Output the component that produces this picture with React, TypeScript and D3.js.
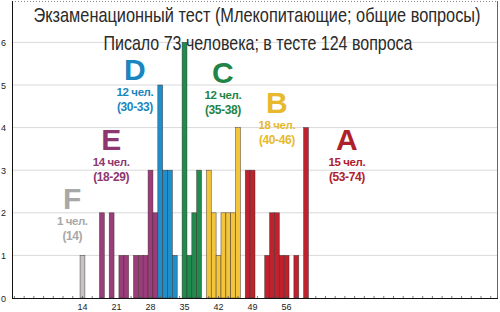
import React from "react";
import * as d3 from "d3";

const scores = [14, 18, 20, 22, 23, 25, 26, 27, 28, 29, 30, 31, 32, 33, 35, 36, 37, 38, 40, 41, 42, 43, 44, 45, 46, 48, 49, 52, 53, 54, 55, 56, 58, 60];
const counts = [1, 2, 2, 1, 1, 1, 1, 1, 3, 2, 5, 3, 3, 1, 6, 1, 2, 3, 3, 2, 1, 2, 2, 2, 4, 3, 3, 1, 2, 2, 1, 1, 1, 4];
const grades = ["F", "E", "E", "E", "E", "E", "E", "E", "E", "E", "D", "D", "D", "D", "C", "C", "C", "C", "B", "B", "B", "B", "B", "B", "B", "A", "A", "A", "A", "A", "A", "A", "A", "A"];

const gradeNames = ["F", "E", "D", "C", "B", "A"];
const gradeFill = ["#c4c4c4", "#9c3d7b", "#1e8fcb", "#1f8b4d", "#f3c53c", "#bf222c"];
const gradeText = ["#a8a8a8", "#8e3670", "#1a86c0", "#1f8446", "#e8b92c", "#b0202a"];
const gradeCount = ["1 чел.", "14 чел.", "12 чел.", "12 чел.", "18 чел.", "15 чел."];
const gradeRange = ["(14)", "(18-29)", "(30-33)", "(35-38)", "(40-46)", "(53-74)"];
const gradeLabelScore = [11.9, 19.9, 24.8, 42.9, 54.0, 68.4];
const gradeLabelLevel = [2.09, 3.47, 5.12, 5.05, 4.34, 3.47];

const xTicks = [14, 21, 28, 35, 42, 49, 56];
const yTicks = [0, 1, 2, 3, 4, 5, 6];

const title1 = "Экзаменационный тест (Млекопитающие; общие вопросы)";
const title2 = "Писало 73 человека; в тесте 124 вопроса";

export default function App() {
  const W = 500, H = 312;
  const left = 12, right = 498, top = 1, bottom = 298;
  const x = d3.scaleLinear().domain([-0.5, 99.5]).range([left, right]);
  const y = d3.scaleLinear().domain([0, 6]).range([bottom, bottom - 6 * 42.6]);
  const bw = x(1) - x(0);
  const minor = d3.range(0, 100, 2);
  const sans = "'Liberation Sans', Arial, sans-serif";
  const narrow = "'Liberation Sans Narrow', 'Arial Narrow', Arial, sans-serif";
  return (
    <svg width={W} height={H} style={{ position: "absolute", left: 0, top: 0, background: "#fff" }}>
      <rect x={0} y={0} width={W} height={H} fill="#fff" />
      {yTicks.filter(t => t > 0).map(t => (
        <line key={"g" + t} x1={left} x2={right} y1={y(t)} y2={y(t)} stroke="#d9d9d9" strokeWidth={1} />
      ))}
      <line x1={left} x2={right} y1={top + 0.5} y2={top + 0.5} stroke="#888" strokeWidth={1} strokeDasharray="1,2" />
      <line x1={right - 0.5} x2={right - 0.5} y1={top} y2={bottom} stroke="#666" strokeWidth={1} />
      {scores.map((s, i) => {
        const gi = gradeNames.indexOf(grades[i]);
        return (
          <rect key={"b" + s} x={x(s - 0.5)} y={y(counts[i])} width={bw} height={y(0) - y(counts[i])}
            fill={gradeFill[gi]} stroke="#3a2a2a" strokeOpacity={0.75} strokeWidth={0.6} />
        );
      })}
      <line x1={left + 0.5} x2={left + 0.5} y1={top} y2={bottom + 0.5} stroke="#111" strokeWidth={1} />
      <line x1={left} x2={right} y1={bottom + 0.5} y2={bottom + 0.5} stroke="#111" strokeWidth={1} />
      {minor.map(m => (
        <line key={"m" + m} x1={x(m)} x2={x(m)} y1={bottom} y2={bottom - 2} stroke="#555" strokeWidth={0.8} />
      ))}
      {yTicks.map(t => (
        <text key={"yt" + t} x={1} y={y(t) + 3.5} fontSize={9} fontFamily={sans} fill="#222">{t}</text>
      ))}
      {xTicks.map(t => (
        <text key={"xt" + t} x={x(t)} y={310} fontSize={9} fontFamily={sans} fill="#222" textAnchor="middle">{t}</text>
      ))}
      {gradeNames.map((g, i) => {
        const cx = x(gradeLabelScore[i]);
        const yl = y(gradeLabelLevel[i]);
        return (
          <g key={"lab" + g}>
            <text x={cx} y={yl} fontSize={30} fontWeight="bold" fontFamily={sans} fill={gradeText[i]} textAnchor="middle">{g}</text>
            <text x={cx} y={yl + 16} fontSize={11.5} fontWeight="bold" fontFamily={sans} fill={gradeText[i]} textAnchor="middle" letterSpacing={-0.4}>{gradeCount[i]}</text>
            <text x={cx} y={yl + 31} fontSize={12} fontWeight="bold" fontFamily={sans} fill={gradeText[i]} textAnchor="middle" letterSpacing={-0.4}>{gradeRange[i]}</text>
          </g>
        );
      })}
      <g transform="translate(257,21.5) scale(1,1.33)">
        <text x={0} y={0} fontSize={15} fontFamily={narrow} fill="#2a2a2a" textAnchor="middle" textLength={447} lengthAdjust="spacingAndGlyphs">{title1}</text>
      </g>
      <g transform="translate(258,50) scale(1,1.33)">
        <text x={0} y={0} fontSize={15} fontFamily={narrow} fill="#2a2a2a" textAnchor="middle" textLength={309} lengthAdjust="spacingAndGlyphs">{title2}</text>
      </g>
    </svg>
  );
}
